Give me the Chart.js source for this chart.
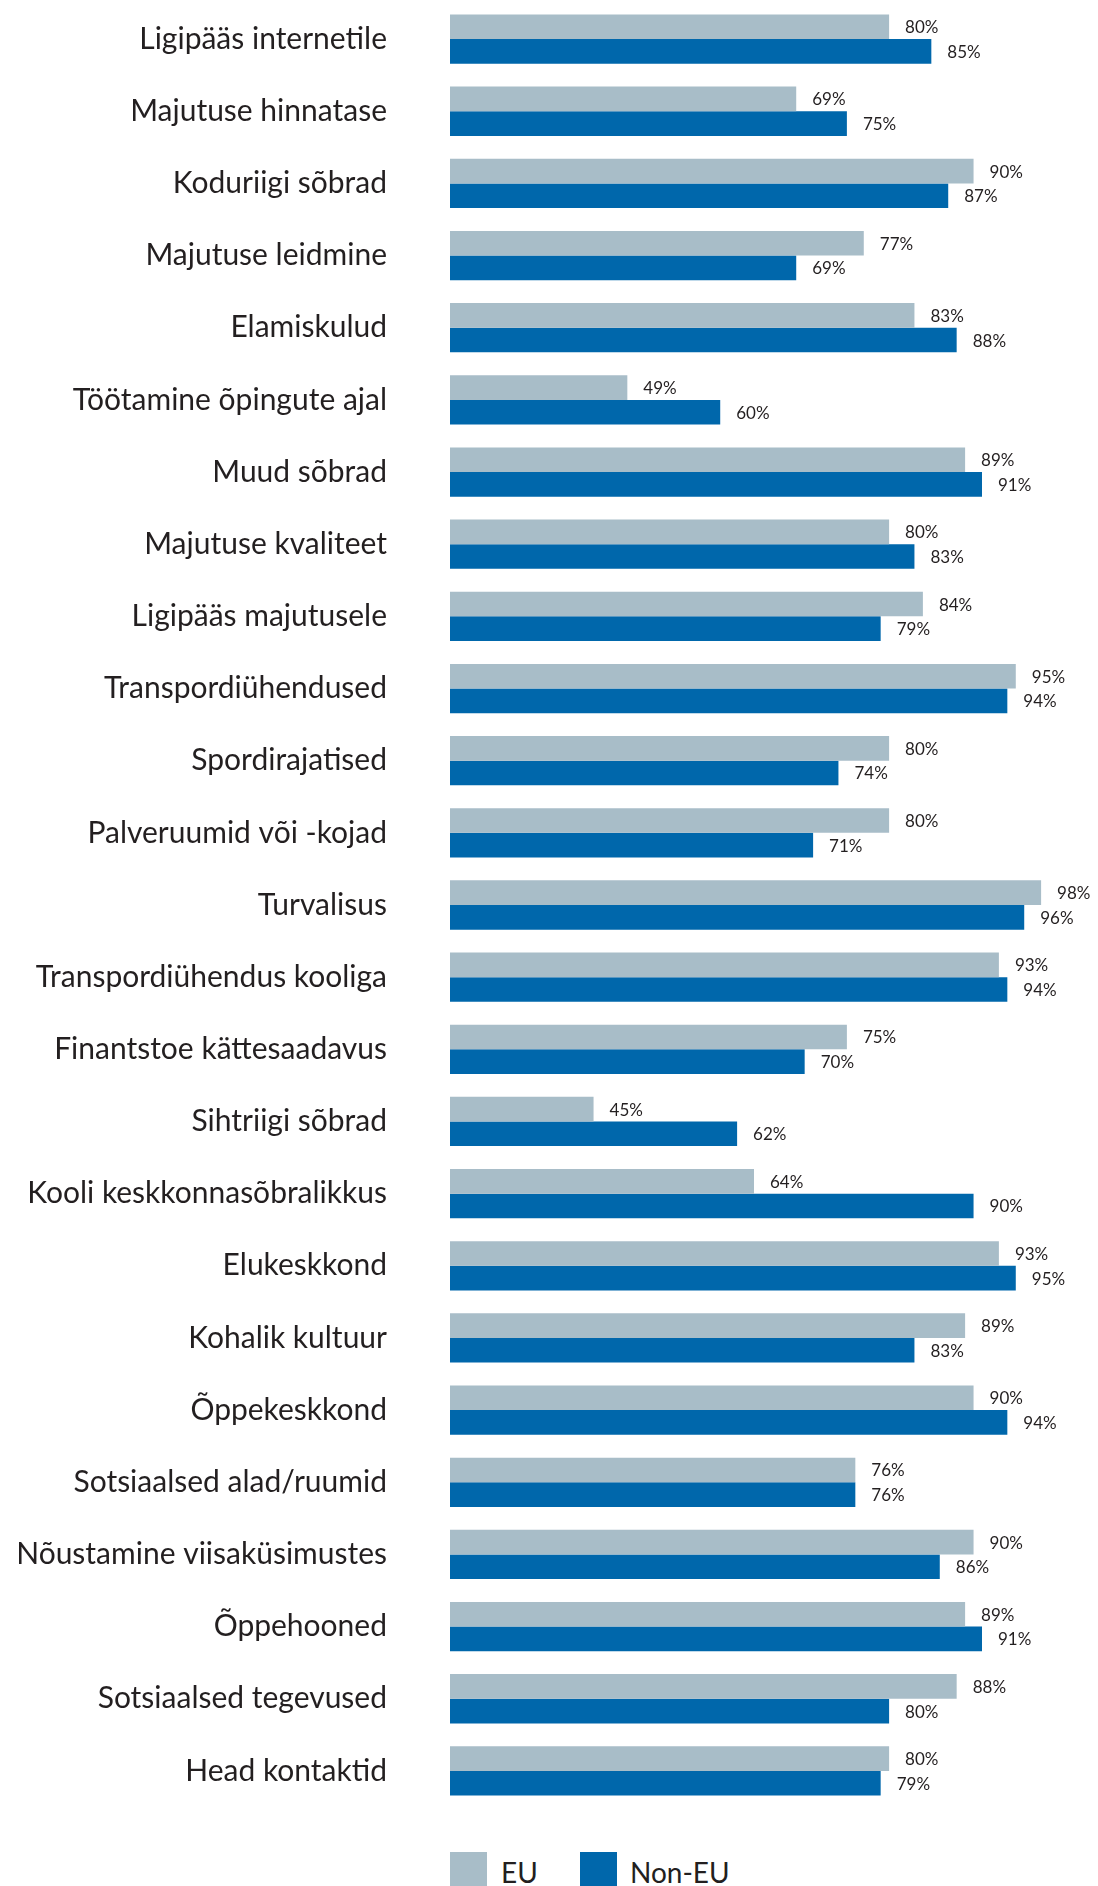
<!DOCTYPE html>
<html>
<head>
<meta charset="utf-8">
<script src="https://cdn.jsdelivr.net/npm/chart.js@4"></script>
<style>
  html, body { margin: 0; padding: 0; background: #fff; }
  #wrap { position: relative; width: 1098px; height: 1886px; overflow: hidden; }
  #chart-box { position: absolute; left: 0; top: 0; width: 1098px; height: 1810px; }
  .legend { position: absolute; top: 1852px; font-family: Lato, "Open Sans", sans-serif; font-size: 28px; color: #231F20; }
  .legend .sw { position: absolute; top: 0; width: 37px; height: 40px; }
  .legend span { position: absolute; top: 3px; white-space: nowrap; }
</style>
</head>
<body>
<div id="wrap">
  <div id="chart-box"><canvas id="chart"></canvas></div>
  <div class="legend" style="left:450px"><div class="sw" style="background:#A8BDC8"></div><span style="left:51px">EU</span></div>
  <div class="legend" style="left:580px"><div class="sw" style="background:#0067AB"></div><span style="left:50px">Non-EU</span></div>
</div>
<script>
// === DATA ===
const categories = [
  'Ligipääs internetile', 'Majutuse hinnatase', 'Koduriigi sõbrad', 'Majutuse leidmine', 'Elamiskulud',
  'Töötamine õpingute ajal', 'Muud sõbrad', 'Majutuse kvaliteet', 'Ligipääs majutusele', 'Transpordiühendused',
  'Spordirajatised', 'Palveruumid või -kojad', 'Turvalisus', 'Transpordiühendus kooliga', 'Finantstoe kättesaadavus',
  'Sihtriigi sõbrad', 'Kooli keskkonnasõbralikkus', 'Elukeskkond', 'Kohalik kultuur', 'Õppekeskkond',
  'Sotsiaalsed alad/ruumid', 'Nõustamine viisaküsimustes', 'Õppehooned', 'Sotsiaalsed tegevused', 'Head kontaktid'
];
const euValues    = [80, 69, 90, 77, 83, 49, 89, 80, 84, 95, 80, 80, 98, 93, 75, 45, 64, 93, 89, 90, 76, 90, 89, 88, 80];
const nonEuValues = [85, 75, 87, 69, 88, 60, 91, 83, 79, 94, 74, 71, 96, 94, 70, 62, 90, 95, 83, 94, 76, 86, 91, 80, 79];
const seriesNames = ['EU', 'Non-EU'];
const seriesColors = ['#A8BDC8', '#0067AB'];

// value labels next to each bar
const valueLabels = {
  id: 'valueLabels',
  afterDatasetsDraw(chart) {
    const ctx = chart.ctx;
    ctx.save();
    ctx.font = '17px Lato, "Open Sans", sans-serif';
    ctx.fillStyle = '#231F20';
    ctx.textAlign = 'left';
    ctx.textBaseline = 'middle';
    chart.data.datasets.forEach((ds, i) => {
      chart.getDatasetMeta(i).data.forEach((bar, j) => {
        ctx.fillText(ds.data[j] + '%', bar.x + 16, bar.y + 1);
      });
    });
    ctx.restore();
  }
};

new Chart(document.getElementById('chart'), {
  type: 'bar',
  data: {
    labels: categories,
    datasets: [
      { label: seriesNames[0], data: euValues, backgroundColor: seriesColors[0], borderWidth: 0 },
      { label: seriesNames[1], data: nonEuValues, backgroundColor: seriesColors[1], borderWidth: 0 }
    ]
  },
  options: {
    indexAxis: 'y',
    responsive: true,
    maintainAspectRatio: false,
    animation: false,
    layout: { padding: { top: 3, bottom: 3, right: 40, left: 0 } },
    datasets: { bar: { categoryPercentage: 0.683, barPercentage: 1.0 } },
    scales: {
      x: { display: false, min: 28, max: 100 },
      y: {
        // fixed axis width so the bars start where the reference has them
        afterFit: s => { s.width = 450; s.paddingTop = 0; s.paddingBottom = 0; },
        grid: { display: false, drawTicks: false },
        border: { display: false },
        ticks: { color: '#231F20', padding: 63, font: { family: 'Lato, "Open Sans", sans-serif', size: 30 } }
      }
    },
    plugins: { legend: { display: false }, tooltip: { enabled: false } }
  },
  plugins: [valueLabels]
});
</script>
</body>
</html>
